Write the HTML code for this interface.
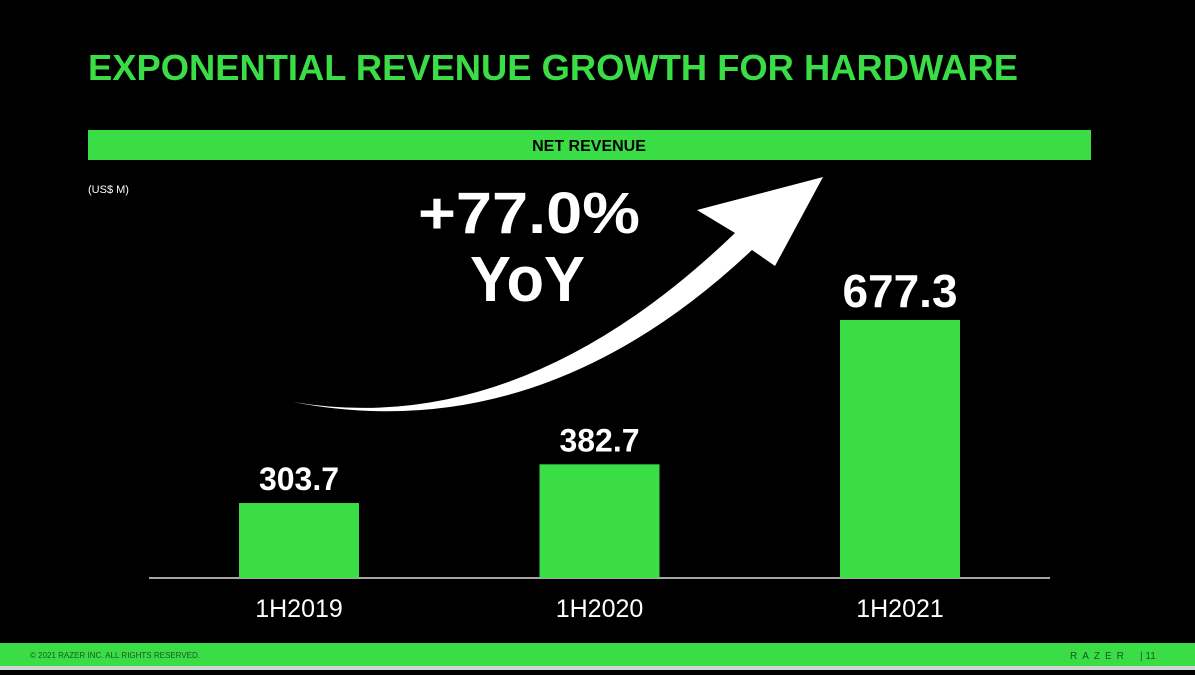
<!DOCTYPE html>
<html><head><meta charset="utf-8"><style>
body{margin:0;background:#000;width:1195px;height:670px;overflow:hidden;font-family:"Liberation Sans",sans-serif;}
</style></head><body>
<svg width="1195" height="670">
<rect width="1195" height="670" fill="#000"/>
<text x="88" y="80" fill="#3bdd47" font-size="36" font-weight="bold" textLength="930" lengthAdjust="spacingAndGlyphs">EXPONENTIAL REVENUE GROWTH FOR HARDWARE</text>
<rect x="88" y="130" width="1003" height="30" fill="#3bdd47"/>
<text x="589" y="151" fill="#000" font-size="16" font-weight="bold" text-anchor="middle">NET REVENUE</text>
<text x="88" y="193" fill="#fff" font-size="11">(US$ M)</text>
<path d="M293,402 Q520,440 735,233 L697,210 L823,177 L775,266 L752,250 Q540,450 293,402 Z" fill="#fff"/>
<text x="418" y="233" fill="#fff" font-size="58" font-weight="bold" textLength="222" lengthAdjust="spacingAndGlyphs">+77.0%</text>
<text x="470" y="301" fill="#fff" font-size="64" font-weight="bold" textLength="115" lengthAdjust="spacingAndGlyphs">YoY</text>
<line x1="149" y1="578" x2="1050" y2="578" stroke="#ddd" stroke-width="1.5"/>
<g id="bars"></g>
<rect x="0" y="643" width="1195" height="23" fill="#3bdd47"/>
<rect x="0" y="666" width="1195" height="4" fill="#cfd8cf"/>
<text x="30" y="658" fill="#1a5a1f" font-size="8">© 2021 RAZER INC. ALL RIGHTS RESERVED.</text>
<text x="1070" y="659" fill="#1a5a1f" font-size="10" letter-spacing="5">RAZER</text>
<text x="1140" y="659" fill="#1a5a1f" font-size="10">|  11</text>
</svg>
<script>
const categories=["1H2019","1H2020","1H2021"];
const values=[303.7,382.7,677.3];
const labels=["303.7","382.7","677.3"];
const base=578, domainMin=150.7, scale=0.49;
function y(v){return base-(v-domainMin)*scale;}
function x(i){return 239+i*300.5;}
const g=document.getElementById('bars');
const ns="http://www.w3.org/2000/svg";
values.forEach((v,i)=>{
 const r=document.createElementNS(ns,'rect');
 r.setAttribute('x',x(i));r.setAttribute('y',y(v));r.setAttribute('width',120);r.setAttribute('height',base-y(v));r.setAttribute('fill','#3bdd47');
 
 
 g.appendChild(r);
 const t=document.createElementNS(ns,'text');
 t.setAttribute('x',x(i)+60);t.setAttribute('y',y(v)-13);t.setAttribute('text-anchor','middle');t.setAttribute('fill','#fff');t.setAttribute('font-weight','bold');
 t.setAttribute('font-size',i==2?46:32);t.textContent=labels[i];
 
 
 g.appendChild(t);
 const c=document.createElementNS(ns,'text');
 c.setAttribute('x',x(i)+60);c.setAttribute('y',617);c.setAttribute('text-anchor','middle');c.setAttribute('fill','#fff');c.setAttribute('font-size',25);c.textContent=categories[i];
 
 
 g.appendChild(c);
});
</script>
</body></html>
